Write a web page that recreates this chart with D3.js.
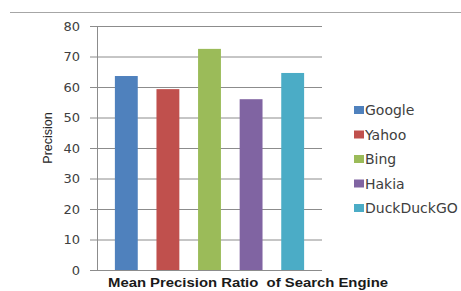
<!DOCTYPE html>
<html lang="en">
    <head>
        <meta charset="utf-8">
        <title>Mean Precision Ratio</title>
        <script type="text/javascript" src="https://cdn.jsdelivr.net/npm/d3@7"></script>
        <style>
            body { margin: 0; background: #fff; }
        </style>
    </head>
    <body>
        <script type="text/javascript">
            // data
            var engines = ["Google", "Yahoo", "Bing", "Hakia", "DuckDuckGO"];
            var precision = [63.6, 59.3, 72.5, 56.0, 64.6];
            var colors = ["#4F81BD", "#C0504D", "#9BBB59", "#8064A2", "#4BACC6"];
            var yTicks = [0, 10, 20, 30, 40, 50, 60, 70, 80];

            var w = 461;
            var h = 291;
            var plot = { left: 97, right: 322, top: 26, bottom: 270 };

            var svg = d3.select("body").append("svg")
                .attr("width", w)
                .attr("height", h);

            // thin rule across the top
            svg.append("line")
               .attr("x1", 10).attr("x2", w)
               .attr("y1", 12.5).attr("y2", 12.5)
               .attr("stroke", "#a6a6a6");

            var y = d3.scaleLinear().domain([0, 80]).range([plot.bottom, plot.top]);
            var x = d3.scaleBand().domain(engines)
                      .range([plot.left, plot.right])
                      .paddingInner(0.45)
                      .paddingOuter(0.43);

            // gridlines + ticks via axis
            var yAxis = d3.axisLeft(y)
                          .tickValues(yTicks)
                          .tickSize(-(plot.right - plot.left))
                          .tickPadding(17);
            var gy = svg.append("g")
                        .attr("transform", "translate(" + plot.left + ",0)")
                        .call(yAxis);
            gy.select(".domain").remove();
            gy.selectAll(".tick line")
              .attr("stroke", "#8c8c8c")
              .attr("x1", -7);
            gy.selectAll(".tick text")
              .attr("font-family", "DejaVu Sans")
              .attr("font-size", "13px")
              .attr("fill", "#404040");

            // axis lines
            svg.append("line")
               .attr("x1", plot.left + 0.5).attr("x2", plot.left + 0.5)
               .attr("y1", plot.top).attr("y2", plot.bottom)
               .attr("stroke", "#8c8c8c");
            svg.append("line")
               .attr("x1", plot.left - 7).attr("x2", plot.right)
               .attr("y1", plot.bottom + 0.5).attr("y2", plot.bottom + 0.5)
               .attr("stroke", "#8c8c8c");

            // bars
            svg.selectAll("rect.bar")
               .data(precision)
               .enter()
               .append("rect")
               .attr("class", "bar")
               .attr("x", function(d, i) { return x(engines[i]); })
               .attr("y", function(d) { return y(d); })
               .attr("width", x.bandwidth())
               .attr("height", function(d) { return plot.bottom - y(d); })
               .attr("fill", function(d, i) { return colors[i]; });

            // y title
            svg.append("text")
               .text("Precision")
               .attr("transform", "translate(52,138) rotate(-90)")
               .attr("text-anchor", "middle")
               .attr("font-family", "Liberation Sans")
               .attr("font-size", "12.5px")
               .attr("fill", "#262626");

            // x title
            svg.append("text")
               .text("Mean Precision Ratio  of Search Engine")
               .attr("x", 108)
               .attr("y", 287)
               .attr("textLength", 280)
               .attr("lengthAdjust", "spacingAndGlyphs")
               .attr("font-family", "Liberation Sans")
               .attr("font-weight", "bold")
               .attr("font-size", "13px")
               .attr("fill", "#1a1a1a")
               .style("white-space", "pre");

            // legend
            var legend = svg.selectAll("g.legend")
                            .data(engines)
                            .enter()
                            .append("g")
                            .attr("class", "legend")
                            .attr("transform", function(d, i) {
                                return "translate(354," + (110 + i * 24.5) + ")";
                            });
            legend.append("rect")
                  .attr("x", 0).attr("y", -4)
                  .attr("width", 10).attr("height", 8)
                  .attr("fill", function(d, i) { return colors[i]; });
            legend.append("text")
                  .text(function(d) { return d; })
                  .attr("x", 11)
                  .attr("dy", "0.36em")
                  .attr("font-family", "DejaVu Sans")
                  .attr("font-size", "14px")
                  .attr("fill", "#404040");
        </script>
    </body>
</html>
